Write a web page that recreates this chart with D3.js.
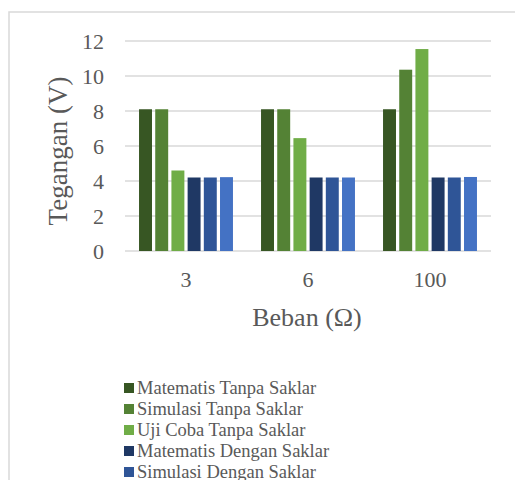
<!DOCTYPE html>
<html>
<head>
<meta charset="utf-8">
<script src="https://cdn.jsdelivr.net/npm/d3@7"></script>
<style>
  html, body { margin: 0; padding: 0; background: #fff; }
  svg { display: block; font-family: "Liberation Serif", "Times New Roman", serif; }
</style>
</head>
<body>
<svg id="chart" width="515" height="480"></svg>
<script>
// Load resistance categories (ohm)
const categories = ["3", "6", "100"];

// Series names and colours
const seriesNames = [
  "Matematis Tanpa Saklar",
  "Simulasi Tanpa Saklar",
  "Uji Coba Tanpa Saklar",
  "Matematis Dengan Saklar",
  "Simulasi Dengan Saklar",
  "Uji Coba Dengan Saklar"
];
const seriesColors = ["#375623", "#548235", "#70AD47", "#1F3864", "#2F5597", "#4472C4"];

// Voltage (V) per series, one value per category
const matematisTanpa = [8.1, 8.1, 8.1];
const simulasiTanpa  = [8.1, 8.1, 10.36];
const ujiCobaTanpa   = [4.6, 6.45, 11.54];
const matematisDengan = [4.2, 4.2, 4.2];
const simulasiDengan  = [4.2, 4.2, 4.2];
const ujiCobaDengan   = [4.22, 4.2, 4.23];

const yTicks = [0, 2, 4, 6, 8, 10, 12];

const seriesValues = [matematisTanpa, simulasiTanpa, ujiCobaTanpa, matematisDengan, simulasiDengan, ujiCobaDengan];

const svg = d3.select("#chart");
const W = 515, H = 480;

// Chart area frame
svg.append("rect")
  .attr("x", 9).attr("y", 12)
  .attr("width", W + 10).attr("height", H + 10)
  .attr("fill", "#fff")
  .attr("stroke", "#d9d9d9").attr("stroke-width", 1.5);

const plot = { left: 125, right: 491, top: 41, bottom: 251 };

const y = d3.scaleLinear().domain([0, 12]).range([plot.bottom, plot.top]);
const x0 = d3.scaleBand().domain(categories).range([plot.left, plot.right])
  .paddingInner(0.23).paddingOuter(0.115);
const x1 = d3.scaleBand().domain(seriesNames).range([0, x0.bandwidth()])
  .paddingInner(0.2).paddingOuter(0);

// Horizontal gridlines
svg.append("g").selectAll("line").data(yTicks).join("line")
  .attr("x1", plot.left).attr("x2", plot.right)
  .attr("y1", d => y(d)).attr("y2", d => y(d))
  .attr("stroke", "#d9d9d9").attr("stroke-width", 1.5);

// Y tick labels
svg.append("g").selectAll("text").data(yTicks).join("text")
  .attr("x", 104).attr("y", d => y(d))
  .attr("dy", "0.35em")
  .attr("text-anchor", "end")
  .attr("font-size", 22)
  .attr("fill", "#595959")
  .text(d => d);

// Bars
const groups = svg.append("g").selectAll("g").data(categories).join("g")
  .attr("transform", c => `translate(${x0(c)},0)`);

groups.selectAll("rect")
  .data((c, ci) => seriesNames.map((s, si) => ({ s, si, v: seriesValues[si][ci] })))
  .join("rect")
  .attr("x", d => x1(d.s))
  .attr("width", x1.bandwidth())
  .attr("y", d => y(d.v))
  .attr("height", d => y(0) - y(d.v))
  .attr("fill", d => seriesColors[d.si]);

// Category labels
svg.append("g").selectAll("text").data(categories).join("text")
  .attr("x", c => x0(c) + x0.bandwidth() / 2)
  .attr("y", 287)
  .attr("text-anchor", "middle")
  .attr("font-size", 22)
  .attr("fill", "#595959")
  .text(c => c);

// Axis titles
svg.append("text")
  .attr("x", 307).attr("y", 326)
  .attr("text-anchor", "middle")
  .attr("font-size", 26)
  .attr("fill", "#595959")
  .text("Beban (Ω)");

svg.append("text")
  .attr("transform", "translate(67,151) rotate(-90)")
  .attr("text-anchor", "middle")
  .attr("font-size", 27)
  .attr("fill", "#595959")
  .text("Tegangan (V)");

// Legend
const legend = svg.append("g").selectAll("g").data(seriesNames).join("g")
  .attr("transform", (d, i) => `translate(124,${388 + i * 21})`);

legend.append("rect")
  .attr("x", 0).attr("y", -5)
  .attr("width", 10).attr("height", 10)
  .attr("fill", (d, i) => seriesColors[i]);

legend.append("text")
  .attr("x", 13).attr("y", 0)
  .attr("dy", "0.35em")
  .attr("font-size", 18.5)
  .attr("fill", "#595959")
  .text(d => d);
</script>
</body>
</html>
